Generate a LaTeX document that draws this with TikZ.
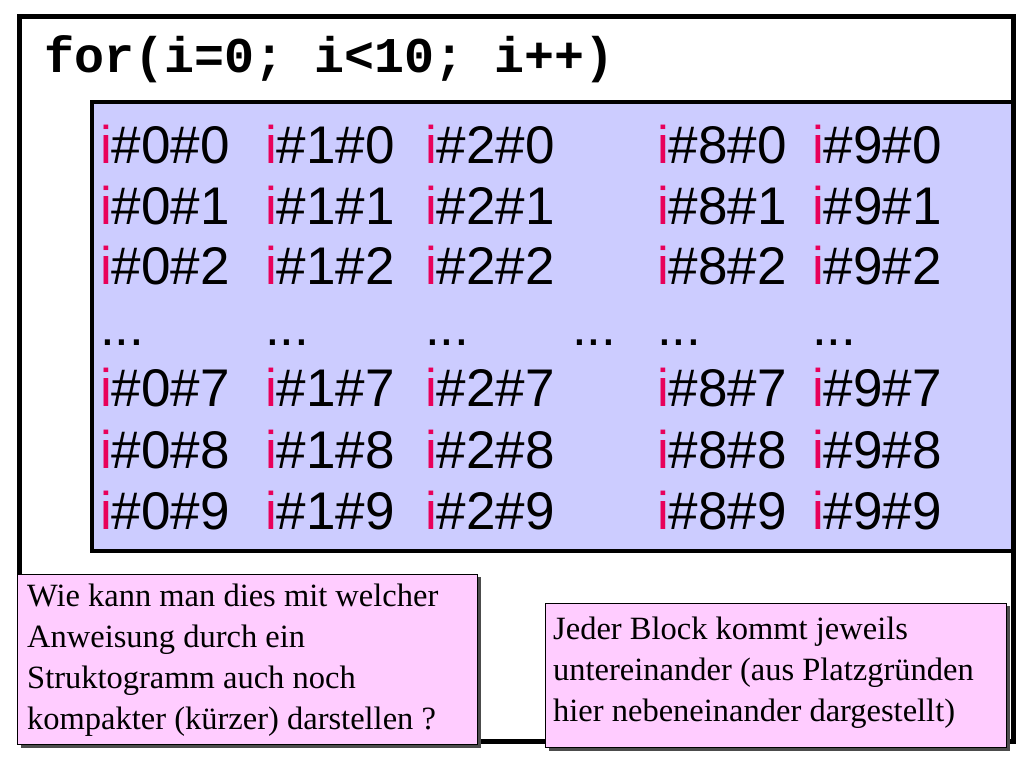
\documentclass[tikz,border=0pt]{standalone}
\usepackage{fontspec}
\setmainfont{Liberation Serif}
\setsansfont{Liberation Sans}
\setmonofont{Liberation Mono}
\definecolor{ired}{RGB}{232,0,90}
\definecolor{lav}{RGB}{204,204,255}
\definecolor{pk}{RGB}{255,204,255}
\begin{document}
\begin{tikzpicture}[x=1pt,y=-1pt,
  cell/.style={anchor=base west,inner sep=0pt,font=\sffamily\fontsize{53}{53}\selectfont},
  note/.style={anchor=north west,align=left,inner sep=0pt,
     font=\rmfamily\fontsize{32.5}{41}\selectfont},
  shadow/.style={fill=black!70}]
\useasboundingbox (0,0) rectangle (1024,768);
\draw[line width=5pt] (19,17) rectangle (1013,741);
\node[anchor=base west,inner sep=0pt,font=\ttfamily\bfseries\fontsize{50}{50}\selectfont] (title) at (44,72) {for(i=0;\ i<10;\ i++)};
\draw[line width=4pt,fill=lav] (92,102) rectangle (1013,551);
\foreach \c/\x in {0/100,1/265,2/425,8/657,9/812}{
  \foreach \r/\y in {0/163,1/224,2/284,7/406,8/468,9/529}{
    \node[cell] (c\c\r) at (\x,\y) {\textcolor{ired}{i}\#\c\#\r};
  }
  \node[cell] (d\c) at (\x,345) {...};
}
\node[cell] (dmid) at (572,345) {...};
\fill[shadow] (21,577) rectangle (481,748);
\draw[line width=1pt,fill=pk] (17,574) rectangle (477,744);
\node[note] (n1) at (27,584) {Wie kann man dies mit welcher\\Anweisung durch ein\\Struktogramm auch noch\\kompakter (kürzer) darstellen ?};
\fill[shadow] (549,606) rectangle (1010,751);
\draw[line width=1pt,fill=pk] (545,603) rectangle (1006,747);
\node[note] (n2) at (553,617) {Jeder Block kommt jeweils\\untereinander (aus Platzgründen\\hier nebeneinander dargestellt)};
\end{tikzpicture}
\end{document}
